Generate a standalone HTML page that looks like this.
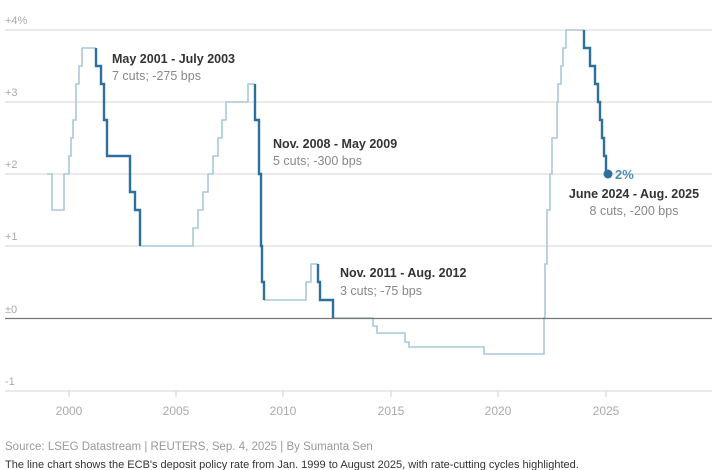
<!DOCTYPE html>
<html><head><meta charset="utf-8"><style>
body{margin:0;background:#fff;width:724px;height:470px;overflow:hidden;font-family:"Liberation Sans",sans-serif}
</style></head><body>
<svg width="724" height="470" xmlns="http://www.w3.org/2000/svg" style="position:absolute;left:0;top:0">
<g stroke="#d4d4d4" stroke-width="1">
<line x1="5" y1="30" x2="712" y2="30"/>
<line x1="5" y1="102" x2="712" y2="102"/>
<line x1="5" y1="174" x2="712" y2="174"/>
<line x1="5" y1="246" x2="712" y2="246"/>
<line x1="5" y1="391" x2="712" y2="391"/>
</g>
<g stroke="#ccc" stroke-width="1">
<line x1="69" y1="391" x2="69" y2="397"/><line x1="176" y1="391" x2="176" y2="397"/>
<line x1="283" y1="391" x2="283" y2="397"/><line x1="391" y1="391" x2="391" y2="397"/>
<line x1="498" y1="391" x2="498" y2="397"/><line x1="606" y1="391" x2="606" y2="397"/>
</g>
<g font-size="11" fill="#aaa">
<text x="5" y="24">+4%</text><text x="5" y="96">+3</text><text x="5" y="168">+2</text>
<text x="5" y="240">+1</text><text x="5" y="313">±0</text><text x="5" y="385">-1</text>
</g>
<g font-size="12" fill="#aaa" text-anchor="middle">
<text x="69" y="415">2000</text><text x="176" y="415">2005</text><text x="283" y="415">2010</text>
<text x="391" y="415">2015</text><text x="498" y="415">2020</text><text x="606" y="415">2025</text>
</g>
<path fill="none" stroke="#a9c8dc" stroke-width="1.6" d="M47 174H52V210H64V174H69V156H71V138H73V120H76V84H79V66H82V48H96 M140 246H193V228H198V210H203V192H208V174H213V156H218V138H222V120H226V102H248V84H255 M264 300H306V282H311V264H318 M333 318H373V326H377V333H405V342H409V347H484V354H544V318H545V264H547V210H550V174H552V138H557V102H558V84H561V66H563V48H566V30H584"/>
<line x1="5" y1="318.5" x2="712" y2="318.5" stroke="#777" stroke-width="1.3"/>
<path fill="none" stroke="#2f6f9c" stroke-width="2.4" d="M96 48V66H101V84H104V120H107V156H130V192H135V210H140V246 M255 84V120H259V174H261V246H262V282H264V300 M318 264V282H320V300H333V318 M584 30V48H590V66H595V84H598V102H600V120H602V138H604V156H606V174H608"/>
<circle cx="608" cy="174" r="4.5" fill="#2f6f9c"/>
<text x="615" y="179" font-size="13" font-weight="bold" fill="#4a8fb3">2%</text>
<g font-size="12.5" fill="#333" font-weight="bold">
<text x="112" y="63">May 2001 - July 2003</text>
<text x="273" y="148">Nov. 2008 - May 2009</text>
<text x="340" y="277">Nov. 2011 - Aug. 2012</text>
<text x="634" y="198" text-anchor="middle">June 2024 - Aug. 2025</text>
</g>
<g font-size="12.5" fill="#888">
<text x="112" y="80">7 cuts; -275 bps</text>
<text x="273" y="165">5 cuts; -300 bps</text>
<text x="340" y="295">3 cuts; -75 bps</text>
<text x="634" y="215" text-anchor="middle">8 cuts, -200 bps</text>
</g>
<text x="5" y="450" font-size="11.5" fill="#999">Source: LSEG Datastream | REUTERS, Sep. 4, 2025 | By Sumanta Sen</text>
<text x="5" y="468" font-size="11" fill="#333">The line chart shows the ECB's deposit policy rate from Jan. 1999 to August 2025, with rate-cutting cycles highlighted.</text>
</svg>
</body></html>
